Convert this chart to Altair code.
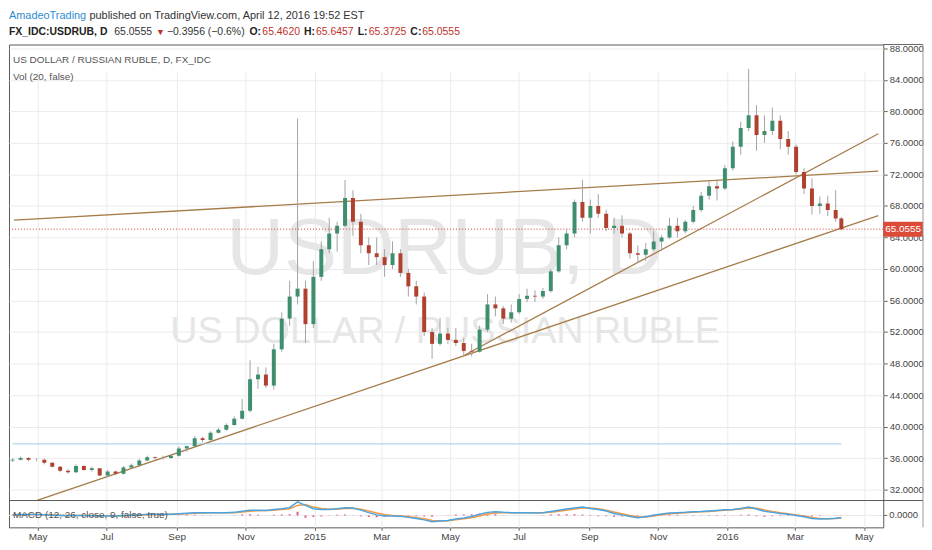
import altair as alt
import pandas as pd

FONT = "Liberation Sans, Arial, sans-serif"

# ---------------- data (weekly OHLC) ----------------
first_week = "2014-04-09"
last_bar = "2016-04-11"

opens = [35.7, 35.8, 36.0, 35.8, 35.8, 35.4, 34.9, 34.4, 34.2, 35.0, 34.5, 34.7, 33.8, 34.3, 34.0, 34.8,
         35.1, 35.7, 36.1, 36.0, 36.0, 36.3, 37.2, 37.5, 38.5, 38.3, 39.2, 39.6, 40.2, 41.0, 42.0, 46.0,
         46.6, 45.2, 49.8, 53.7, 56.5, 57.5, 53.0, 59.0, 62.5, 64.5, 65.5, 69.0, 66.0, 63.0, 62.0, 61.5,
         60.5, 62.0, 59.5, 57.8, 56.5, 52.0, 50.5, 51.8, 51.0, 50.6, 49.6, 49.5, 52.3, 55.5, 55.0, 53.7,
         54.5, 56.2, 56.6, 56.5, 57.2, 59.7, 63.0, 64.5, 68.5, 66.5, 68.0, 67.0, 65.2, 65.5, 64.5, 62.0,
         61.8, 62.5, 63.5, 64.0, 65.5, 64.8, 66.0, 67.5, 69.3, 70.5, 70.2, 72.8, 75.5, 77.9, 79.5, 77.0,
         77.5, 78.8, 76.5, 75.5, 72.3, 70.2, 68.0, 68.3, 67.5, 66.4]
highs = [36.0, 36.2, 36.1, 36.0, 35.9, 35.5, 35.0, 34.6, 35.2, 35.1, 34.9, 34.7, 34.5, 34.4, 35.0, 35.3,
         35.9, 36.3, 36.2, 36.3, 36.5, 37.5, 37.6, 38.8, 38.7, 39.4, 39.8, 40.4, 41.3, 43.5, 48.4, 47.6,
         47.5, 50.5, 54.5, 58.5, 79.1, 58.5, 61.0, 63.5, 66.5, 66.0, 71.3, 70.0, 67.0, 64.0, 64.0, 62.5,
         63.5, 62.5, 60.0, 58.5, 57.0, 52.5, 53.8, 52.5, 52.5, 51.2, 50.5, 52.8, 56.8, 56.5, 55.3, 55.5,
         56.8, 57.5, 57.3, 57.6, 60.0, 64.0, 65.0, 68.8, 71.3, 68.8, 69.5, 67.5, 66.5, 66.8, 64.7, 63.0,
         63.3, 64.8, 64.3, 66.5, 66.5, 66.2, 68.0, 69.8, 71.2, 71.2, 73.2, 76.2, 78.7, 85.4, 80.8, 79.5,
         80.5, 79.5, 77.5, 75.8, 72.8, 71.5, 69.2, 69.3, 70.0, 66.6]
lows = [35.5, 35.7, 35.6, 35.6, 35.2, 34.8, 34.2, 34.0, 34.1, 34.4, 34.3, 33.7, 33.6, 33.8, 33.9, 34.7,
        34.9, 35.6, 35.8, 35.8, 35.9, 36.2, 36.8, 37.4, 38.0, 38.2, 39.1, 39.5, 40.1, 40.9, 41.8, 44.8,
        44.9, 44.7, 49.5, 52.8, 55.5, 50.6, 52.5, 58.5, 62.0, 62.2, 65.3, 64.2, 62.0, 60.5, 60.5, 59.0,
        60.0, 59.0, 56.5, 55.5, 51.5, 48.6, 50.3, 50.5, 50.2, 49.0, 48.9, 49.4, 52.0, 54.0, 53.0, 53.2,
        54.3, 55.8, 55.8, 56.2, 57.0, 59.5, 62.5, 64.0, 66.0, 64.5, 66.5, 64.8, 64.5, 64.0, 61.3, 60.8,
        61.0, 62.3, 62.3, 63.8, 64.0, 64.5, 65.8, 67.2, 68.8, 68.7, 70.0, 72.5, 74.5, 77.5, 75.0, 76.0,
        77.0, 75.2, 74.5, 72.0, 69.5, 66.9, 67.0, 66.7, 66.0, 64.9]
closes = [35.8, 36.0, 35.8, 35.8, 35.4, 34.9, 34.4, 34.2, 35.0, 34.5, 34.7, 33.8, 34.3, 34.0, 34.8, 35.1,
          35.7, 36.1, 36.0, 36.0, 36.3, 37.2, 37.5, 38.5, 38.3, 39.2, 39.6, 40.2, 41.0, 42.0, 46.0, 46.6,
          45.2, 49.8, 53.7, 56.5, 57.5, 53.0, 59.0, 62.5, 64.5, 65.5, 69.0, 66.0, 63.0, 62.0, 61.5, 60.5,
          62.0, 59.5, 57.8, 56.5, 52.0, 50.5, 51.8, 51.0, 50.6, 49.6, 49.5, 52.3, 55.5, 55.0, 53.7, 54.5,
          56.2, 56.6, 56.5, 57.2, 59.7, 63.0, 64.5, 68.5, 66.5, 68.0, 67.0, 65.2, 65.5, 64.5, 62.0, 61.8,
          62.5, 63.5, 64.0, 65.5, 64.8, 66.0, 67.5, 69.3, 70.5, 70.2, 72.8, 75.5, 77.9, 79.5, 77.0, 77.5,
          78.8, 76.5, 75.5, 72.3, 70.2, 68.0, 68.3, 67.5, 66.4, 65.0555]

macd_line = [0.2, 0.3, 0.3, 0.3, 0.2, 0.1, 0.0, -0.1, 0.0, 0.0, -0.1, -0.2, -0.2, -0.2, 0.0, 0.1,
             0.2, 0.4, 0.4, 0.4, 0.4, 0.6, 0.8, 1.0, 1.0, 1.0, 1.0, 1.0, 1.1, 1.5, 1.9, 1.9,
             1.8, 2.1, 2.4, 2.8, 4.9, 3.6, 2.4, 2.1, 2.1, 2.4, 2.8, 2.7, 1.9, 1.0, 0.2, -0.2,
             -0.2, -0.3, -0.7, -1.1, -1.6, -2.3, -2.0, -1.8, -1.3, -0.9, -0.4, 0.4, 1.1, 1.3, 1.1, 1.0,
             1.0, 1.0, 0.9, 1.0, 1.4, 1.9, 2.3, 2.7, 3.0, 2.5, 2.1, 1.6, 0.7, 0.2, -0.4, -0.8,
             -0.5, 0.1, 0.5, 0.9, 1.0, 1.1, 1.3, 1.4, 1.6, 1.8, 2.0, 2.1, 2.5, 3.0, 2.3, 1.5,
             1.1, 0.7, 0.4, 0.0, -0.5, -1.1, -1.3, -1.2, -1.0, -0.8]
signal_line = [0.2, 0.25, 0.3, 0.3, 0.25, 0.2, 0.1, 0.0, 0.0, 0.0, -0.05, -0.1, -0.15, -0.2, -0.1, 0.0,
               0.1, 0.2, 0.3, 0.35, 0.4, 0.5, 0.6, 0.8, 0.9, 0.95, 1.0, 1.0, 1.0, 1.2, 1.5, 1.7,
               1.8, 1.9, 2.1, 2.4, 3.6, 3.9, 3.0, 2.5, 2.2, 2.2, 2.5, 2.6, 2.2, 1.6, 0.9, 0.3,
               0.0, -0.2, -0.4, -0.8, -1.2, -1.8, -2.0, -1.9, -1.6, -1.2, -0.8, -0.2, 0.5, 0.9, 1.0, 1.0,
               1.0, 1.0, 0.95, 0.95, 1.1, 1.5, 1.9, 2.3, 2.7, 2.7, 2.4, 1.9, 1.2, 0.6, 0.0, -0.5,
               -0.6, -0.2, 0.2, 0.6, 0.8, 1.0, 1.15, 1.3, 1.45, 1.65, 1.85, 2.0, 2.3, 2.7, 2.6, 2.0,
               1.4, 0.95, 0.6, 0.2, -0.2, -0.7, -1.1, -1.2, -1.1, -0.9]
hist_bars = [0.05, 0.05, 0.0, 0.0, -0.05, -0.1, -0.1, -0.1, 0.0, 0.0, -0.05, -0.1, -0.05, 0.0, 0.1, 0.1,
             0.1, 0.2, 0.1, 0.05, 0.0, 0.1, 0.2, 0.2, 0.1, 0.05, 0.0, 0.0, 0.1, 0.3, 0.4, 0.2,
             0.0, 0.2, 0.3, 0.4, 1.3, -0.8, -0.6, -0.4, -0.1, 0.2, 0.3, 0.1, -0.3, -0.6, -0.7, -0.5,
             -0.2, -0.1, -0.3, -0.3, -0.4, -0.5, 0.0, 0.1, 0.3, 0.3, 0.4, 0.6, 0.6, 0.4, 0.1, 0.0,
             0.0, 0.0, -0.05, 0.05, 0.3, 0.4, 0.4, 0.4, 0.3, -0.2, -0.3, -0.3, -0.5, -0.4, -0.4, -0.3,
             0.1, 0.3, 0.3, 0.3, 0.2, 0.1, 0.15, 0.1, 0.15, 0.15, 0.15, 0.1, 0.2, 0.3, -0.3, -0.5,
             -0.3, -0.25, -0.2, -0.2, -0.3, -0.4, -0.2, 0.0, 0.1, 0.1]

# trend lines drawn on the chart: (name, date, price)
trend_names = ["upper", "upper", "lower", "lower", "steep", "steep"]
trend_dates = ["2014-04-10T03:22", "2016-05-13T16:48", "2014-04-30", "2016-05-13T16:48",
               "2015-05-14", "2016-05-13T16:48"]
trend_prices = [66.19, 72.41, 30.61, 66.77, 49.08, 77.17]

last_price = 65.0555
vol_level = 37.8

price_ticks = [32, 36, 40, 44, 48, 52, 56, 60, 64, 68, 72, 76, 80, 84, 88]
month_ticks = ["2014-05-01", "2014-07-01", "2014-09-01", "2014-11-01", "2015-01-01", "2015-03-01",
               "2015-05-01", "2015-07-01", "2015-09-01", "2015-11-01", "2016-01-01", "2016-03-01",
               "2016-05-01"]
x_domain = ["2014-04-10T03:22", "2016-05-13T16:48"]
price_domain = [30.61, 88.49]
macd_domain = [-4.29, 5.36]


def ts(s):
    return int(pd.Timestamp(s, tz="UTC").value // 1_000_000)


bar_t = [ts(d) for d in pd.date_range(first_week, periods=len(closes), freq="7D")]
bar_t[-1] = ts(last_bar)

candles = pd.DataFrame({"t": bar_t, "o": opens, "h": highs, "l": lows, "c": closes})
candles["dir"] = ["up" if c >= o else "down" for o, c in zip(opens, closes)]

macd_df = pd.DataFrame({"t": bar_t, "macd": macd_line, "signal": signal_line, "hist": hist_bars})

trend_df = pd.DataFrame({"name": trend_names, "t": [ts(d) for d in trend_dates], "p": trend_prices})
last_df = pd.DataFrame({"p": [last_price], "hi": [last_price + 0.95], "lo": [last_price - 0.95],
                        "lbl": [f"{last_price:.4f}"]})
vol_df = pd.DataFrame({"t": [bar_t[0]], "t2": [bar_t[-1]], "p": [vol_level]})

# ---------------- layout ----------------
W, H_MAIN, H_MACD = 880, 459, 27
H_ALL = H_MAIN + H_MACD
GRID = "#ebebeb"
one = pd.DataFrame({"k": [0]})

x_scale = alt.Scale(type="utc", domain=[ts(d) for d in x_domain])
y_scale = alt.Scale(domain=price_domain, range=[H_MAIN, 0], nice=False, zero=False)
m_scale = alt.Scale(domain=macd_domain, range=[H_ALL, H_MAIN], nice=False, zero=False)

x_axis = alt.Axis(values=[ts(d) for d in month_ticks], grid=True, gridColor=GRID, domain=False,
                  tickSize=3, tickColor="#666", labelPadding=1, title=None, labelFontSize=10,
                  labelExpr="utcmonth(datum.value) == 0 ? utcFormat(datum.value, '%Y') : utcFormat(datum.value, '%b')")
y_axis = alt.Axis(orient="right", values=price_ticks, format=".4f", grid=True, gridColor=GRID,
                  tickSize=4, tickColor="#666", labelPadding=2, domain=False, title=None)

X = alt.X("t:T", scale=x_scale, axis=x_axis)


def txt(s, x, y, size=11, color="#555", weight="normal", align="left", baseline="middle"):
    return alt.Chart(one).mark_text(text=s, align=align, baseline=baseline, fontSize=size, color=color,
                                    fontWeight=weight, font=FONT, clip=False).encode(
        x=alt.value(x), y=alt.value(y))


def seg(x1, x2, y1, y2, color="#666"):
    return alt.Chart(one).mark_rule(color=color, strokeWidth=1, clip=False).encode(
        x=alt.value(x1), x2=alt.value(x2), y=alt.value(y1), y2=alt.value(y2))


watermark = [
    txt("USDRUB, D", 439, 231, size=80, color="#e6e6e6", align="center", baseline="alphabetic"),
    txt("US DOLLAR / RUSSIAN RUBLE", 439, 300, size=38, color="#e6e6e6", align="center",
        baseline="alphabetic"),
]

trend = alt.Chart(trend_df).mark_line(color="#a67c4a", strokeWidth=1.3, clip=True).encode(
    x=X, y=alt.Y("p:Q", scale=y_scale, axis=y_axis), detail="name:N")

last_rule = alt.Chart(last_df).mark_rule(color="#d0392b", strokeDash=[1, 2], strokeWidth=1,
                                         clip=True).encode(
    y=alt.Y("p:Q", scale=y_scale, axis=y_axis))

vol_rule = alt.Chart(vol_df).mark_rule(color="#9ccbe6", strokeWidth=1, clip=True).encode(
    x=X, x2="t2:T", y=alt.Y("p:Q", scale=y_scale, axis=y_axis))

wicks = alt.Chart(candles).mark_rule(color="#a3a3a3", strokeWidth=1, clip=True).encode(
    x=X, y=alt.Y("l:Q", scale=y_scale, axis=y_axis), y2="h:Q")

bodies = alt.Chart(candles).mark_bar(size=4, clip=True).encode(
    x=X, y=alt.Y("o:Q", scale=y_scale, axis=y_axis), y2="c:Q",
    color=alt.Color("dir:N", scale=alt.Scale(domain=["up", "down"], range=["#3f8f6e", "#b0412f"]),
                    legend=None))

tag_box = alt.Chart(last_df).mark_rect(color="#dc4a38", clip=False).encode(
    x=alt.value(880), x2=alt.value(920), y=alt.Y("hi:Q", scale=y_scale, axis=y_axis), y2="lo:Q")
tag_text = alt.Chart(last_df).mark_text(color="white", fontSize=10, font=FONT, align="center",
                                        baseline="middle", clip=False).encode(
    x=alt.value(900), y=alt.Y("p:Q", scale=y_scale, axis=y_axis), text="lbl:N")

L1, L2 = -28.5, -13
RED = "#c0322b"
header = [
    txt("AmadeoTrading", 0, L1, size=11, color="#2e8bcf"),
    txt("published on TradingView.com, April 12, 2016 19:52 EST", 81, L1, size=11, color="#333"),
    txt("FX_IDC:USDRUB, D", 0, L2, size=10.5, color="#222", weight="bold"),
    txt("65.0555", 106, L2, size=10.5, color="#333"),
    txt("▼", 148, L2, size=9, color=RED),
    txt("−0.3956 (−0.6%)", 159, L2, size=10.5, color="#333"),
    txt("O:", 242, L2, size=10.5, color="#222", weight="bold"),
    txt("65.4620", 255, L2, size=10.5, color=RED),
    txt("H:", 297, L2, size=10.5, color="#222", weight="bold"),
    txt("65.6457", 309, L2, size=10.5, color=RED),
    txt("L:", 351, L2, size=10.5, color="#222", weight="bold"),
    txt("65.3725", 362, L2, size=10.5, color=RED),
    txt("C:", 404, L2, size=10.5, color="#222", weight="bold"),
    txt("65.0555", 416, L2, size=10.5, color=RED),
]

pane_labels = [
    txt("US DOLLAR / RUSSIAN RUBLE, D, FX_IDC", 4, 16, size=10, color="#555"),
    txt("Vol (20, false)", 4, 33, size=10, color="#555"),
    txt("MACD (12, 26, close, 9, false, true)", 4, H_MAIN + 15, size=10, color="#555"),
]

frame = [seg(880, 920, 0, 0), seg(0, 920, H_MAIN, H_MAIN, "#5a5a5a"), seg(920, 920, 0, H_ALL, "#999")]

main_layer = alt.layer(*watermark, trend, vol_rule, last_rule, wicks, bodies, tag_box, tag_text)

# ---------------- MACD pane ----------------
zero_grid = alt.Chart(one).mark_rule(color=GRID, strokeWidth=1).encode(
    y=alt.YDatum(0, scale=m_scale, axis=None))
zero_tick = alt.Chart(one).mark_rule(color="#666", strokeWidth=1, clip=False).encode(
    x=alt.value(880), x2=alt.value(884), y=alt.YDatum(0, scale=m_scale, axis=None))
zero_label = alt.Chart(one).mark_text(text="0.0000", align="left", baseline="middle", fontSize=9.5,
                                      color="#444", font=FONT, clip=False).encode(
    x=alt.value(886), y=alt.YDatum(0, scale=m_scale, axis=None))
hist = alt.Chart(macd_df).mark_bar(size=2, color="#e0569a", clip=True).encode(
    x=X, y=alt.Y("hist:Q", scale=m_scale, axis=None), y2=alt.Y2Datum(0))
sig = alt.Chart(macd_df).mark_line(color="#f39a45", strokeWidth=1.5, clip=True).encode(
    x=X, y=alt.Y("signal:Q", scale=m_scale, axis=None))
mac = alt.Chart(macd_df).mark_line(color="#4aa3df", strokeWidth=1.5, clip=True).encode(
    x=X, y=alt.Y("macd:Q", scale=m_scale, axis=None))

macd_layer = alt.layer(zero_grid, hist, sig, mac, zero_tick, zero_label)

chart = alt.layer(main_layer, macd_layer, *pane_labels, *header, *frame).resolve_scale(
    y="independent"
).properties(
    width=W, height=H_ALL, padding=0, background="white",
).configure_view(stroke="#5a5a5a", strokeWidth=1).configure_axis(
    labelFont=FONT, labelFontSize=9.5, labelColor="#444")

chart.save("out.html", embed_options={"renderer": "svg", "actions": False})
